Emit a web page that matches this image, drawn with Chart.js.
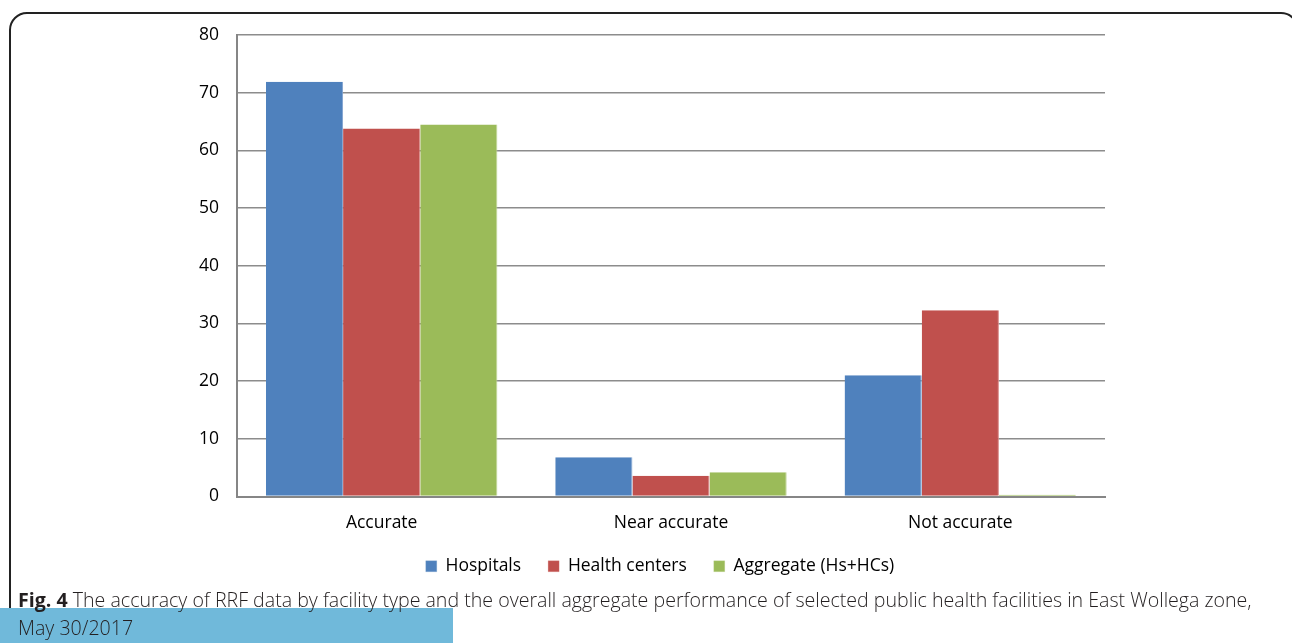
<!DOCTYPE html>
<html lang="en">
<head>
<meta charset="UTF-8">
<title>Accuracy of RRF data</title>
<script src="https://cdn.jsdelivr.net/npm/chart.js"></script>
<style>
  html, body { margin: 0; padding: 0; background: #fff; overflow: hidden; }
  body { width: 1292px; height: 643px; position: relative; font-family: "Open Sans", sans-serif; }
  #frame { position: absolute; left: 9px; top: 12px; width: 1290px; height: 700px;
           border: 2px solid #222; border-radius: 18px; box-sizing: border-box; }
  #wrap { position: absolute; left: 0; top: 0; width: 1292px; height: 590px; }
  #band { position: absolute; left: 0; top: 608px; width: 453px; height: 40px; background: #70b9da; }
  #caption { position: absolute; left: 18px; top: 586px; width: 1270px; font-size: 19.6px;
             line-height: 28px; color: #231f20; font-weight: 300; white-space: nowrap; }
  #caption b { font-weight: 700; }
</style>
</head>
<body>
<div id="frame"></div>
<div id="band"></div>
<div id="wrap"><canvas id="accChart"></canvas></div>
<div id="caption"><b>Fig. 4</b> The accuracy of RRF data by facility type and the overall aggregate performance of selected public health facilities in East Wollega zone,<br>May 30/2017</div>
<script>
// data
const categories = ['Accurate', 'Near accurate', 'Not accurate'];
const hospitals = [71.9, 6.8, 21.0];
const healthCenters = [63.8, 3.6, 32.3];
const aggregate = [64.5, 4.2, 0.3];
const yTicks = [0, 10, 20, 30, 40, 50, 60, 70, 80];

// legend sits centred on the page, not on the plot
const legendShift = {
  id: 'legendShift',
  afterLayout(chart) {
    const lg = chart.legend;
    const off = chart.width / 2 + 14 - (lg.left + lg.right) / 2;
    lg.left += off;
    lg.right += off;
  }
};

const ctx = document.getElementById('accChart').getContext('2d');
new Chart(ctx, {
  type: 'bar',
  data: {
    labels: categories,
    datasets: [
      { label: 'Hospitals', data: hospitals, backgroundColor: '#4f81bd', borderColor: '#7fa3d0', borderWidth: { right: 1 } },
      { label: 'Health centers', data: healthCenters, backgroundColor: '#c0504d', borderColor: '#d98886', borderWidth: { right: 1 } },
      { label: 'Aggregate (Hs+HCs)', data: aggregate, backgroundColor: '#9bbb59', borderColor: '#c3d89d', borderWidth: { right: 1 } }
    ]
  },
  plugins: [legendShift],
  options: {
    responsive: true,
    maintainAspectRatio: false,
    animation: false,
    categoryPercentage: 0.8,
    barPercentage: 1.0,
    layout: { padding: { top: 35, right: 187, bottom: 5, left: 0 } },
    scales: {
      x: {
        afterFit: (s) => { s.height = 34; },
        grid: { display: false, drawTicks: false },
        border: { color: '#868686', width: 2 },
        ticks: { color: '#000', padding: 16, font: { family: 'Open Sans', size: 17.5 } }
      },
      y: {
        min: 0,
        max: 80,
        afterFit: (s) => { s.width = 237; },
        afterBuildTicks: (s) => { s.ticks = yTicks.map(v => ({ value: v })); },
        grid: { color: '#8c8c8c', lineWidth: 1.5, drawTicks: false },
        border: { color: '#868686', width: 2 },
        ticks: { color: '#000', padding: 18, font: { family: 'Open Sans', size: 17.5 } }
      }
    },
    plugins: {
      legend: {
        position: 'bottom',
        labels: {
          boxWidth: 11,
          boxHeight: 11,
          padding: 27,
          color: '#000',
          font: { family: 'Open Sans', size: 17.5 }
        }
      },
      tooltip: { enabled: false }
    }
  }
});
</script>
</body>
</html>
